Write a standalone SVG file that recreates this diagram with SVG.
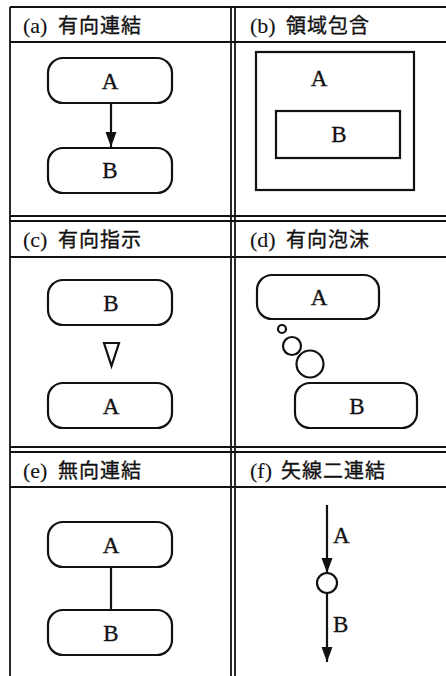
<svg xmlns="http://www.w3.org/2000/svg" width="446" height="676" viewBox="0 0 446 676">
<style>
.grid{stroke:#111;stroke-width:1.8;fill:none}
.node{fill:#fff;stroke:#111;stroke-width:2.2}
.lbl{font-family:"Liberation Serif","Times New Roman",serif;font-size:23px;fill:#111;stroke:#111;stroke-width:0.35;text-anchor:middle}
.lbll{font-family:"Liberation Serif","Times New Roman",serif;font-size:23px;fill:#111;stroke:#111;stroke-width:0.35}
.hdr{font-family:"Liberation Serif","Noto Sans CJK JP",serif;font-size:22px;fill:#111;stroke:#111;stroke-width:0.1}
.cjk{font-family:"Noto Sans CJK JP","Noto Sans CJK SC",sans-serif;font-size:20px;letter-spacing:1px;stroke-width:0.35}
.conn{stroke:#111;stroke-width:2.2;fill:none}
</style>
<defs>
<marker id="arr" viewBox="0 0 15 12" refX="15" refY="6" markerWidth="15" markerHeight="12" markerUnits="userSpaceOnUse" orient="auto">
<path d="M0,0.5 L15,6 L0,11.5 Z" fill="#111"/>
</marker>
</defs>
<rect width="446" height="676" fill="#fff"/>
<g id="table">
<line class="grid" x1="10" y1="7" x2="446" y2="7"/>
<line class="grid" x1="10" y1="7" x2="10" y2="676"/>
<line class="grid" x1="231" y1="7" x2="231" y2="676"/>
<line class="grid" x1="235" y1="7" x2="235" y2="676"/>
<line class="grid" x1="10" y1="42" x2="446" y2="42"/>
<line class="grid" x1="10" y1="216" x2="446" y2="216"/>
<line class="grid" x1="10" y1="221" x2="446" y2="221"/>
<line class="grid" x1="10" y1="257" x2="446" y2="257"/>
<line class="grid" x1="10" y1="447" x2="446" y2="447"/>
<line class="grid" x1="10" y1="452" x2="446" y2="452"/>
<line class="grid" x1="10" y1="487" x2="446" y2="487"/>
</g>
<g id="headers">
<text class="hdr" x="23" y="33">(a) <tspan class="cjk" x="58">有向連結</tspan></text>
<text class="hdr" x="250" y="33">(b) <tspan class="cjk" x="286">領域包含</tspan></text>
<text class="hdr" x="23" y="247">(c) <tspan class="cjk" x="58">有向指示</tspan></text>
<text class="hdr" x="250" y="247">(d) <tspan class="cjk" x="286">有向泡沫</tspan></text>
<text class="hdr" x="23" y="478">(e) <tspan class="cjk" x="58">無向連結</tspan></text>
<text class="hdr" x="250" y="478">(f) <tspan class="cjk" x="281">矢線二連結</tspan></text>
</g>
<g id="connectors">
<line class="conn" x1="111" y1="103" x2="111" y2="147" marker-end="url(#arr)"/>
<polygon class="conn" points="104,343 119,343 111.5,366" stroke-width="2.4"/>
<circle class="conn" cx="282" cy="329" r="4"/>
<circle class="conn" cx="292" cy="346" r="9"/>
<circle class="conn" cx="310" cy="364" r="13.5"/>
<line class="conn" x1="111" y1="567" x2="111" y2="610"/>
<line class="conn" x1="327" y1="505" x2="327" y2="573" marker-end="url(#arr)"/>
<line class="conn" x1="327" y1="593" x2="327" y2="662" marker-end="url(#arr)"/>
</g>
<g id="a-A"><rect class="node" x="48" y="58" width="124" height="45" rx="15"/><text class="lbl" x="110" y="89">A</text></g>
<g id="a-B"><rect class="node" x="48" y="148" width="124" height="45" rx="15"/><text class="lbl" x="110" y="178">B</text></g>
<g id="b-A"><rect class="node" x="256" y="52" width="158" height="138" fill="none"/><text class="lbl" x="319" y="86">A</text></g>
<g id="b-B"><rect class="node" x="276" y="111" width="124" height="47" fill="none"/><text class="lbl" x="339" y="142">B</text></g>
<g id="c-B"><rect class="node" x="48" y="280" width="124" height="45" rx="15"/><text class="lbl" x="111" y="311">B</text></g>
<g id="c-A"><rect class="node" x="48" y="383" width="124" height="45" rx="15"/><text class="lbl" x="111" y="414">A</text></g>
<g id="d-A"><rect class="node" x="257" y="275" width="122" height="44" rx="15"/><text class="lbl" x="319" y="305">A</text></g>
<g id="d-B"><rect class="node" x="295" y="383" width="122" height="45" rx="15"/><text class="lbl" x="357" y="414">B</text></g>
<g id="e-A"><rect class="node" x="48" y="522" width="124" height="45" rx="15"/><text class="lbl" x="111" y="553">A</text></g>
<g id="e-B"><rect class="node" x="48" y="610" width="124" height="45" rx="15"/><text class="lbl" x="111" y="641">B</text></g>
<g id="f-node"><circle class="node" cx="327" cy="583" r="10"/></g>
<g id="f-labels"><text class="lbll" x="333" y="543">A</text><text class="lbll" x="333" y="632">B</text></g>
</svg>
